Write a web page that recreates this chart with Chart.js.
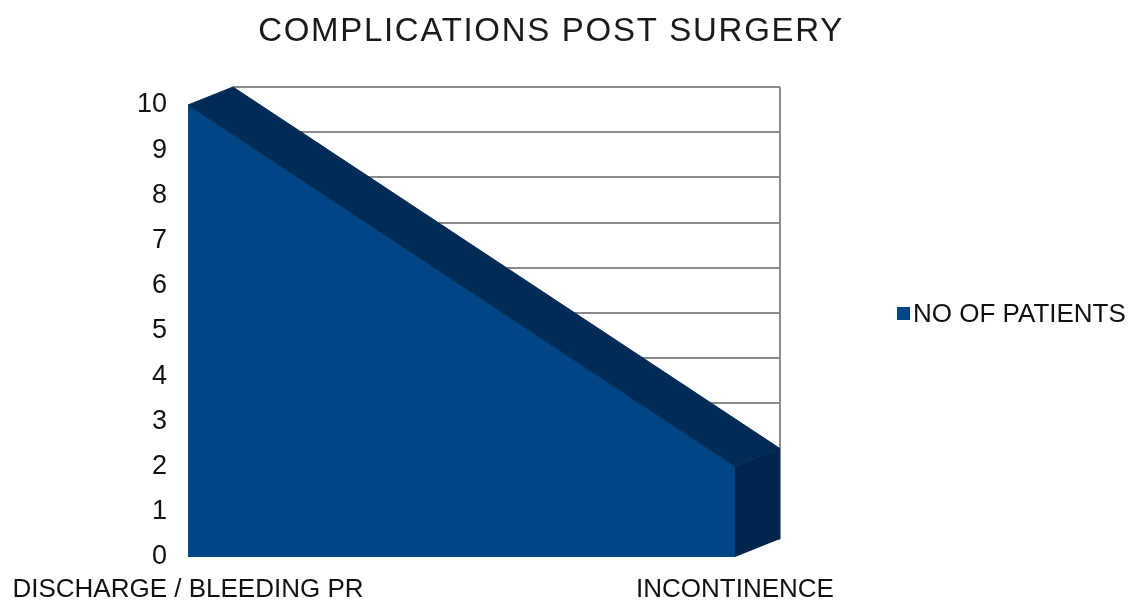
<!DOCTYPE html>
<html>
<head>
<meta charset="utf-8">
<script src="https://cdn.jsdelivr.net/npm/chart.js@4"></script>
<style>
  html, body { margin: 0; padding: 0; background: #fff; }
  #wrap { width: 1131px; height: 603px; position: relative; }
</style>
</head>
<body>
<div id="wrap"><canvas id="complicationsChart"></canvas></div>
<script>
// Chart data
const chartTitle = 'COMPLICATIONS POST SURGERY';
const categories = ['DISCHARGE / BLEEDING PR', 'INCONTINENCE'];
const seriesLabel = 'NO OF PATIENTS';
const patientCounts = [10, 2];
const yTicks = [0, 1, 2, 3, 4, 5, 6, 7, 8, 9, 10];

const FONT = '"Liberation Sans", Arial, sans-serif';
const FRONT_BLUE = '#004586';
const DEPTH_X = 45;   // 3D depth offset
const DEPTH_Y = -18;

/**
 * Draws the back wall (grid) behind the area, offset by the 3D depth.
 */
const backWall = {
    id: 'backWall',
    beforeDatasetsDraw(chart) {
        const { ctx, chartArea, scales } = chart;
        const y = scales.y;
        const left = chartArea.left + DEPTH_X;
        const right = chartArea.right + DEPTH_X;
        ctx.save();
        ctx.strokeStyle = '#8a8a8a';
        ctx.lineWidth = 2;
        yTicks.forEach(v => {
            const py = Math.round(y.getPixelForValue(v) + DEPTH_Y);
            ctx.beginPath();
            ctx.moveTo(left, py);
            ctx.lineTo(right, py);
            ctx.stroke();
        });
        ctx.beginPath();
        ctx.moveTo(right, y.getPixelForValue(yTicks[yTicks.length - 1]) + DEPTH_Y);
        ctx.lineTo(right, y.getPixelForValue(0) + DEPTH_Y);
        ctx.moveTo(left, y.getPixelForValue(yTicks[yTicks.length - 1]) + DEPTH_Y);
        ctx.lineTo(left, y.getPixelForValue(0) + DEPTH_Y);
        ctx.stroke();
        ctx.restore();
    },
    // top and side faces of the extruded area
    afterDatasetsDraw(chart) {
        const { ctx, scales } = chart;
        const pts = chart.getDatasetMeta(0).data;
        const y0 = scales.y.getPixelForValue(0);
        ctx.save();
        ctx.fillStyle = '#002b57';
        ctx.strokeStyle = '#002b57';
        ctx.lineWidth = 1;
        for (let i = 0; i < pts.length - 1; i++) {
            const a = pts[i], b = pts[i + 1];
            ctx.beginPath();
            ctx.moveTo(a.x, a.y);
            ctx.lineTo(a.x + DEPTH_X, a.y + DEPTH_Y);
            ctx.lineTo(b.x + DEPTH_X, b.y + DEPTH_Y);
            ctx.lineTo(b.x, b.y);
            ctx.closePath();
            ctx.fill();
            ctx.stroke();
        }
        const last = pts[pts.length - 1];
        ctx.fillStyle = '#00264d';
        ctx.beginPath();
        ctx.moveTo(last.x, last.y);
        ctx.lineTo(last.x + DEPTH_X, last.y + DEPTH_Y);
        ctx.lineTo(last.x + DEPTH_X, y0 + DEPTH_Y);
        ctx.lineTo(last.x, y0);
        ctx.closePath();
        ctx.fill();
        ctx.restore();
    },
    // title and legend
    afterDraw(chart) {
        const { ctx } = chart;
        ctx.save();
        ctx.fillStyle = '#1a1a1a';
        ctx.textAlign = 'center';
        ctx.textBaseline = 'middle';
        ctx.font = '33px ' + FONT;
        ctx.letterSpacing = '1.7px';
        ctx.fillText(chartTitle, 551, 32);
        ctx.letterSpacing = '0px';

        ctx.fillStyle = FRONT_BLUE;
        ctx.fillRect(897, 307, 13, 13);
        ctx.fillStyle = '#111';
        ctx.textAlign = 'left';
        ctx.font = '26px ' + FONT;
        ctx.fillText(chart.data.datasets[0].label, 913, 315);
        ctx.restore();
    }
};

new Chart(document.getElementById('complicationsChart'), {
    type: 'line',
    data: {
        labels: categories,
        datasets: [{
            label: seriesLabel,
            data: patientCounts,
            fill: 'origin',
            backgroundColor: FRONT_BLUE,
            borderWidth: 0,
            pointRadius: 0,
            tension: 0
        }]
    },
    options: {
        responsive: true,
        maintainAspectRatio: false,
        animation: false,
        layout: { padding: { top: 105, right: 396, bottom: 0, left: 0 } },
        plugins: {
            legend: { display: false },
            title: { display: false },
            tooltip: { enabled: false }
        },
        scales: {
            x: {
                type: 'category',
                offset: false,
                grid: { display: false, drawTicks: false },
                border: { display: false },
                ticks: {
                    font: { family: FONT, size: 26 },
                    color: '#111',
                    maxRotation: 0,
                    autoSkip: false,
                    padding: 17
                },
                afterFit(scale) {
                    scale.height = 46;
                    // keep the plot left edge fixed by the y axis width
                    scale.paddingLeft = 0;
                    scale.paddingRight = 0;
                }
            },
            y: {
                min: 0,
                max: 10,
                grid: { display: false, drawTicks: false },
                border: { display: false },
                ticks: {
                    stepSize: 1,
                    font: { family: FONT, size: 27 },
                    color: '#111',
                    padding: 21
                },
                afterFit(scale) { scale.width = 188; }
            }
        }
    },
    plugins: [backWall]
});
</script>
</body>
</html>
